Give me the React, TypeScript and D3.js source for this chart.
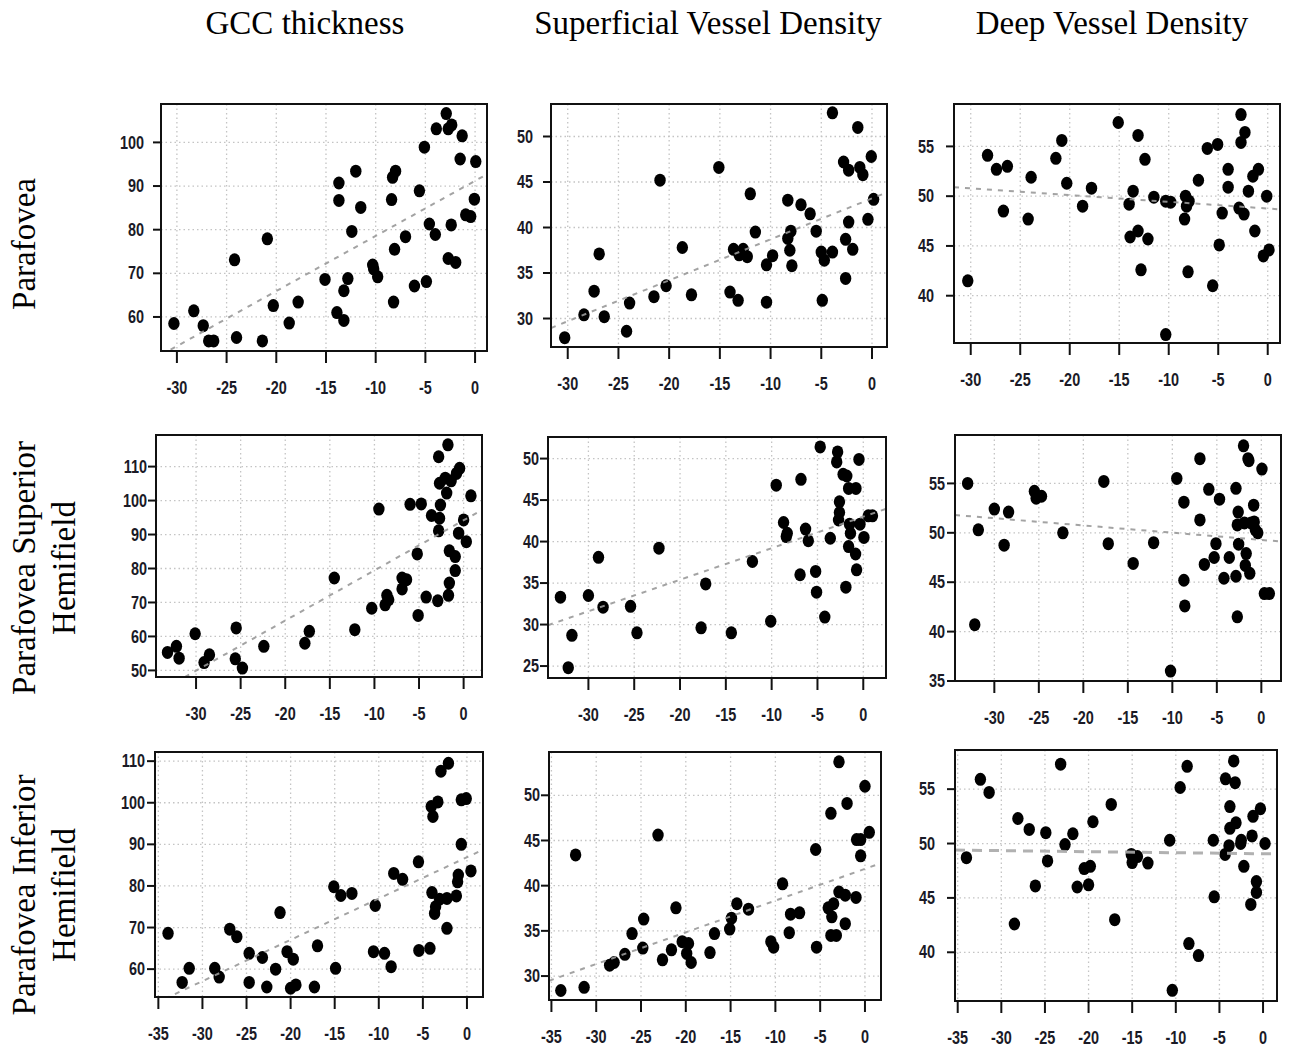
import React from "react";
import { scaleLinear, line } from "d3";

const svgWidth = 1292;
const svgHeight = 1051;
const dotRx = 5.7;
const dotRy = 6.5;
const xTickLen = 12;
const yTickLen = 8;
const xLabelOffset = 37;
const tickFont = "'Liberation Sans', Arial, sans-serif";
const tickFontSize = 18.5;
const tickSquash = 0.78;
const titleFont = "'Liberation Serif', 'Times New Roman', serif";

const colTitles = ["GCC thickness", "Superficial Vessel Density", "Deep Vessel Density"];
const colTitleX = [305, 708, 1112];
const rowTitles = [["Parafovea"], ["Parafovea Superior", "Hemifield"], ["Parafovea Inferior", "Hemifield"]];
const rowTitleY = [244, 568, 895];

const xTicks30 = [-30, -25, -20, -15, -10, -5, 0];
const xTicks35 = [-35, -30, -25, -20, -15, -10, -5, 0];
const yTicksGccPara = [60, 70, 80, 90, 100];
const yTicksSvdPara = [30, 35, 40, 45, 50];
const yTicksDvdPara = [40, 45, 50, 55];
const yTicksGccSup = [50, 60, 70, 80, 90, 100, 110];
const yTicksSvdSup = [25, 30, 35, 40, 45, 50];
const yTicksDvdSup = [35, 40, 45, 50, 55];
const yTicksGccInf = [60, 70, 80, 90, 100, 110];
const yTicksSvdInf = [30, 35, 40, 45, 50];
const yTicksDvdInf = [40, 45, 50, 55];

// [visual field MD, measure]
const gccPara = [
  [-30.3, 58.5], [-28.3, 61.4], [-27.35, 58.0], [-26.8, 54.5], [-26.3, 54.5], [-24.2, 73.1], [-24.0, 55.3],
  [-21.4, 54.5], [-20.9, 77.9], [-20.3, 62.6], [-18.7, 58.6], [-17.8, 63.4], [-15.1, 68.6], [-13.9, 61.0],
  [-13.7, 90.7], [-13.7, 86.7], [-13.2, 59.2], [-13.2, 66.0], [-12.8, 68.8], [-12.0, 93.4], [-12.4, 79.6],
  [-11.5, 85.1], [-10.3, 71.9], [-10.2, 71.0], [-9.8, 69.2], [-8.4, 86.9], [-8.3, 92.0], [-8.0, 93.4],
  [-8.1, 75.5], [-8.2, 63.4], [-7.0, 78.4], [-6.1, 67.1], [-5.6, 88.9], [-5.1, 98.9], [-4.9, 68.1],
  [-4.6, 81.3], [-4.0, 78.9], [-3.9, 103.1], [-2.9, 106.6], [-2.7, 103.1], [-2.35, 104.0], [-2.7, 73.4],
  [-1.95, 72.5], [-2.4, 81.1], [-1.3, 101.5], [-1.5, 96.2], [0.07, 95.6], [-0.07, 87.0], [-0.94, 83.4],
  [-0.44, 83.0],
];
const svdPara = [
  [-30.3, 27.9], [-28.4, 30.4], [-27.4, 33.0], [-26.9, 37.1], [-26.4, 30.2], [-24.2, 28.6], [-23.9, 31.7],
  [-21.5, 32.4], [-20.9, 45.2], [-20.3, 33.6], [-18.7, 37.8], [-17.8, 32.6], [-15.1, 46.6], [-14.0, 32.9],
  [-13.65, 37.6], [-13.2, 32.0], [-13.1, 37.0], [-12.7, 37.6], [-12.3, 36.8], [-12.0, 43.7], [-11.5, 39.5],
  [-10.4, 35.9], [-9.8, 36.9], [-10.4, 31.8], [-8.3, 43.0], [-8.3, 38.8], [-8.0, 39.6], [-8.1, 37.5],
  [-7.9, 35.8], [-7.0, 42.5], [-6.1, 41.5], [-5.5, 39.6], [-5.0, 37.3], [-4.9, 32.0], [-4.7, 36.4],
  [-3.9, 37.3], [-3.9, 52.6], [-2.8, 47.2], [-2.3, 46.3], [-2.6, 38.7], [-2.6, 34.4], [-2.3, 40.6],
  [-1.9, 37.6], [-1.4, 51.0], [-1.2, 46.6], [-0.9, 45.8], [-0.4, 40.9], [-0.07, 47.8], [0.16, 43.1],
];
const dvdPara = [
  [-30.3, 41.5], [-28.3, 54.1], [-27.4, 52.7], [-26.3, 53.0], [-26.7, 48.5], [-23.9, 51.9], [-24.2, 47.7],
  [-21.4, 53.8], [-20.8, 55.6], [-20.3, 51.3], [-18.7, 49.0], [-17.8, 50.8], [-15.1, 57.4], [-14.0, 49.2],
  [-13.6, 50.5], [-13.9, 45.9], [-13.1, 46.5], [-13.1, 56.1], [-12.4, 53.7], [-12.8, 42.6], [-12.1, 45.7],
  [-11.5, 49.9], [-10.3, 49.5], [-9.8, 49.4], [-10.3, 36.1], [-8.3, 50.0], [-7.95, 49.5], [-8.2, 49.0],
  [-8.4, 47.7], [-8.05, 42.4], [-7.0, 51.6], [-6.1, 54.8], [-5.56, 41.0], [-5.06, 55.2], [-4.9, 45.1],
  [-4.6, 48.3], [-4.0, 52.7], [-4.0, 50.9], [-2.7, 58.2], [-2.3, 56.4], [-2.7, 55.4], [-2.9, 48.8],
  [-2.4, 48.2], [-1.95, 50.5], [-1.5, 52.0], [-0.94, 52.7], [-1.3, 46.5], [-0.44, 44.0], [0.13, 44.6],
  [-0.1, 50.0],
];
const gccSup = [
  [-33.2, 55.3], [-32.2, 57.1], [-31.9, 53.6], [-30.1, 60.8], [-29.1, 52.3], [-28.5, 54.6], [-25.5, 62.5],
  [-25.6, 53.4], [-24.8, 50.7], [-22.4, 57.1], [-17.8, 58.0], [-17.3, 61.5], [-14.5, 77.2], [-12.2, 62.0],
  [-10.3, 68.3], [-9.5, 97.5], [-8.8, 69.3], [-8.6, 72.1], [-8.4, 70.8], [-6.9, 74.0], [-6.9, 77.2],
  [-6.4, 76.7], [-6.0, 98.9], [-4.75, 99.0], [-5.2, 84.3], [-5.1, 66.2], [-4.2, 71.6], [-3.6, 95.6],
  [-2.8, 112.9], [-2.7, 105.1], [-2.6, 98.7], [-2.7, 94.8], [-2.8, 91.1], [-2.9, 70.5], [-2.06, 106.6],
  [-1.9, 102.2], [-1.76, 116.4], [-1.4, 105.8], [-0.8, 108.0], [-0.45, 109.5], [-1.7, 72.1], [-1.6, 75.7],
  [-1.6, 85.2], [-0.94, 83.5], [-0.94, 79.4], [-0.56, 90.4], [0.0, 94.3], [0.3, 87.9], [0.82, 101.4],
];
const svdSup = [
  [-33.05, 33.3], [-31.8, 28.7], [-32.2, 24.8], [-30.0, 33.5], [-28.9, 38.1], [-28.4, 32.1], [-25.4, 32.2],
  [-24.7, 29.0], [-22.3, 39.2], [-17.7, 29.6], [-17.2, 34.9], [-14.4, 29.0], [-12.1, 37.6], [-10.1, 30.4],
  [-9.5, 46.8], [-8.7, 42.3], [-8.4, 40.6], [-8.3, 41.0], [-6.9, 36.0], [-6.8, 47.5], [-6.3, 41.5],
  [-6.0, 40.1], [-5.2, 36.4], [-5.1, 33.9], [-4.7, 51.4], [-4.2, 30.9], [-3.6, 40.4], [-2.8, 50.8],
  [-2.9, 49.6], [-2.6, 44.8], [-2.6, 43.5], [-2.7, 42.6], [-2.2, 48.1], [-1.8, 47.9], [-1.6, 46.4],
  [-0.8, 46.4], [-1.9, 34.5], [-1.5, 42.1], [-1.4, 41.0], [-1.6, 39.4], [-0.84, 38.5], [-0.73, 36.6],
  [-0.47, 49.9], [-0.36, 42.1], [0.07, 40.5], [0.55, 43.1], [1.0, 43.1],
];
const dvdSup = [
  [-33.0, 55.0], [-31.8, 50.3], [-32.2, 40.7], [-30.0, 52.4], [-28.9, 48.75], [-28.4, 52.1], [-25.5, 54.2],
  [-25.3, 53.5], [-24.7, 53.7], [-22.3, 50.0], [-17.7, 55.2], [-17.2, 48.9], [-14.4, 46.9], [-12.1, 49.0],
  [-10.2, 36.0], [-9.5, 55.5], [-8.7, 53.1], [-8.7, 45.2], [-8.6, 42.6], [-6.9, 57.5], [-6.9, 51.3],
  [-6.4, 46.8], [-5.9, 54.4], [-4.7, 53.4], [-5.1, 48.9], [-5.3, 47.5], [-4.2, 45.4], [-3.6, 47.5],
  [-2.85, 54.5], [-2.6, 52.1], [-2.7, 50.8], [-2.55, 48.85], [-2.85, 45.6], [-2.7, 41.5], [-2.0, 58.8],
  [-1.5, 57.5], [-1.4, 57.3], [-1.9, 51.0], [-1.16, 51.0], [-1.7, 47.9], [-1.8, 46.7], [-1.3, 45.9],
  [-0.86, 52.8], [-0.8, 51.1], [-0.67, 50.3], [-0.4, 50.0], [0.07, 56.45], [0.34, 43.85], [0.9, 43.85],
];
const gccInf = [
  [-33.9, 68.6], [-32.3, 56.8], [-31.5, 60.2], [-28.6, 60.2], [-28.1, 58.1], [-26.9, 69.6], [-26.1, 67.8],
  [-24.7, 63.8], [-24.7, 56.8], [-23.2, 62.8], [-22.7, 55.7], [-21.7, 60.0], [-21.2, 73.6], [-20.4, 64.2],
  [-19.7, 62.4], [-20.0, 55.4], [-19.4, 56.2], [-17.3, 55.7], [-16.95, 65.6], [-14.9, 60.2], [-15.1, 79.8],
  [-14.3, 77.7], [-13.05, 78.2], [-10.4, 75.3], [-10.6, 64.2], [-9.35, 63.8], [-8.6, 60.6], [-8.3, 83.0],
  [-7.3, 81.6], [-5.5, 85.8], [-5.45, 64.5], [-4.2, 65.0], [-4.05, 99.1], [-3.86, 96.7], [-3.97, 78.4],
  [-3.67, 73.4], [-3.56, 75.0], [-3.3, 100.2], [-2.95, 107.6], [-2.1, 109.5], [-3.1, 76.8], [-2.27, 77.0],
  [-2.27, 69.8], [-1.2, 77.6], [-1.06, 81.0], [-0.98, 82.6], [-0.64, 90.0], [-0.64, 100.7], [-0.08, 101.0],
  [0.45, 83.6],
];
const svdInf = [
  [-33.95, 28.4], [-32.3, 43.4], [-31.35, 28.75], [-28.5, 31.2], [-28.0, 31.5], [-26.8, 32.4], [-26.0, 34.7],
  [-24.7, 36.3], [-24.8, 33.1], [-23.1, 45.6], [-22.6, 31.8], [-21.6, 32.9], [-21.1, 37.55], [-20.4, 33.8],
  [-19.7, 33.6], [-19.9, 32.5], [-19.4, 31.5], [-17.3, 32.6], [-16.8, 34.7], [-15.1, 35.2], [-14.9, 36.4],
  [-14.3, 38.0], [-13.0, 37.4], [-10.5, 33.8], [-10.2, 33.2], [-9.2, 40.2], [-8.45, 34.8], [-8.3, 36.85],
  [-7.3, 37.0], [-5.5, 44.0], [-5.4, 33.2], [-3.8, 48.0], [-4.1, 37.55], [-3.7, 36.55], [-3.8, 34.5],
  [-3.5, 38.0], [-3.2, 34.5], [-2.9, 39.3], [-2.9, 53.7], [-2.2, 38.95], [-2.2, 35.8], [-2.0, 49.1],
  [-1.0, 38.7], [-0.93, 45.1], [-0.48, 45.1], [-0.48, 43.3], [0.0, 51.0], [0.48, 45.9],
];
const dvdInf = [
  [-34.0, 48.7], [-32.4, 55.9], [-31.4, 54.7], [-28.5, 42.6], [-28.1, 52.3], [-26.8, 51.3], [-26.1, 46.1],
  [-24.9, 51.0], [-24.7, 48.4], [-23.2, 57.3], [-22.7, 49.9], [-21.8, 50.9], [-21.3, 46.0], [-20.5, 47.7],
  [-19.8, 47.9], [-20.0, 46.2], [-19.5, 52.0], [-17.4, 53.6], [-17.0, 43.0], [-15.1, 49.0], [-15.0, 48.25],
  [-14.4, 48.8], [-13.2, 48.2], [-10.7, 50.3], [-10.4, 36.5], [-9.5, 55.15], [-8.7, 57.1], [-8.5, 40.8],
  [-7.4, 39.7], [-5.7, 50.3], [-5.6, 45.1], [-4.3, 55.95], [-4.35, 49.0], [-3.9, 49.8], [-3.8, 53.4],
  [-3.8, 51.4], [-3.36, 57.6], [-3.2, 55.6], [-3.1, 51.9], [-2.56, 50.0], [-2.5, 50.3], [-2.2, 47.9],
  [-1.26, 50.7], [-1.15, 52.5], [-1.4, 44.4], [-0.76, 46.5], [-0.76, 45.5], [-0.3, 53.2], [0.23, 50.0],
];

// regression lines: [intercept, slope]
const fitGccPara = [91.2, 1.263];
const fitSvdPara = [43.2, 0.45];
const fitDvdPara = [48.76, -0.0675];
const fitGccSup = [94.2, 1.476];
const fitSvdSup = [43.0, 0.38];
const fitDvdSup = [49.28, -0.0732];
const fitGccInf = [86.9, 0.993];
const fitSvdInf = [41.86, 0.351];
const fitDvdInf = [49.06, -0.0095];

const panels = [
  { data: gccPara, fit: fitGccPara, xTicks: xTicks30, yTicks: yTicksGccPara, box: [161, 104, 487, 351], xDomain: [-31.6, 1.2], yDomain: [52.2, 108.8], labelGap: 17 },
  { data: svdPara, fit: fitSvdPara, xTicks: xTicks30, yTicks: yTicksSvdPara, box: [551, 104, 887, 347], xDomain: [-31.65, 1.48], yDomain: [26.87, 53.57], labelGap: 18 },
  { data: dvdPara, fit: fitDvdPara, xTicks: xTicks30, yTicks: yTicksDvdPara, box: [954, 104, 1280, 343], xDomain: [-31.69, 1.24], yDomain: [35.25, 59.26], labelGap: 20 },
  { data: gccSup, fit: fitGccSup, xTicks: xTicks30, yTicks: yTicksGccSup, box: [156, 435, 482, 677], xDomain: [-34.49, 2.06], yDomain: [48.06, 119.3], labelGap: 9 },
  { data: svdSup, fit: fitSvdSup, xTicks: xTicks30, yTicks: yTicksSvdSup, box: [548, 437, 886, 678], xDomain: [-34.41, 2.48], yDomain: [23.56, 52.6], labelGap: 9 },
  { data: dvdSup, fit: fitDvdSup, xTicks: xTicks30, yTicks: yTicksDvdSup, box: [955, 435, 1281, 681], xDomain: [-34.42, 2.21], yDomain: [35, 59.9], labelGap: 10 },
  { data: gccInf, fit: fitGccInf, xTicks: xTicks35, yTicks: yTicksGccInf, box: [155, 752, 483, 997], xDomain: [-35.38, 1.82], yDomain: [53.3, 112.2], labelGap: 10 },
  { data: svdInf, fit: fitSvdInf, xTicks: xTicks35, yTicks: yTicksSvdInf, box: [549, 752, 881, 1000], xDomain: [-35.27, 1.79], yDomain: [27.35, 54.79], labelGap: 9 },
  { data: dvdInf, fit: fitDvdInf, xTicks: xTicks35, yTicks: yTicksDvdInf, box: [955, 750, 1277, 1001], xDomain: [-35.31, 1.6], yDomain: [35.52, 58.6], labelGap: 20, wideDash: true },
];

function TickLabel({ x, y, anchor, children }) {
  return (
    <g transform={`translate(${x},${y}) scale(${tickSquash},1)`}>
      <text
        textAnchor={anchor}
        dominantBaseline="central"
        fontFamily={tickFont}
        fontWeight="bold"
        fontSize={tickFontSize}
        fill="#1a1a26"
      >
        {children}
      </text>
    </g>
  );
}

function Panel({ panel, index }) {
  const [x0, y0, x1, y1] = panel.box;
  const xScale = scaleLinear().domain(panel.xDomain).range([x0, x1]);
  const yScale = scaleLinear().domain(panel.yDomain).range([y1, y0]);
  const [intercept, slope] = panel.fit;
  const fitPath = line<number>()
    .x((d) => xScale(d))
    .y((d) => yScale(intercept + slope * d));
  const clipId = `panel-clip-${index}`;

  return (
    <g>
      <defs>
        <clipPath id={clipId}>
          <rect x={x0} y={y0} width={x1 - x0} height={y1 - y0} />
        </clipPath>
      </defs>
      <g clipPath={`url(#${clipId})`}>
        {panel.xTicks.map((tick) => (
          <line
            key={`gx${tick}`}
            x1={xScale(tick)}
            x2={xScale(tick)}
            y1={y0}
            y2={y1}
            stroke="#c4c4c4"
            strokeWidth={1.3}
            strokeDasharray="1.5,3"
          />
        ))}
        {panel.yTicks.map((tick) => (
          <line
            key={`gy${tick}`}
            x1={x0}
            x2={x1}
            y1={yScale(tick)}
            y2={yScale(tick)}
            stroke="#c4c4c4"
            strokeWidth={1.3}
            strokeDasharray="1.5,3"
          />
        ))}
      </g>
      {panel.data.map((d, i) => (
        <ellipse key={`pt${i}`} cx={xScale(d[0])} cy={yScale(d[1])} rx={dotRx} ry={dotRy} fill="#000" />
      ))}
      <g clipPath={`url(#${clipId})`}>
        <path
          d={fitPath(panel.xDomain)}
          fill="none"
          stroke={panel.wideDash ? "#a8a8a8" : "#999"}
          strokeWidth={panel.wideDash ? 3 : 2}
          strokeDasharray={panel.wideDash ? "10,7" : "5,6"}
          opacity={0.9}
        />
      </g>
      <rect x={x0} y={y0} width={x1 - x0} height={y1 - y0} fill="none" stroke="#111" strokeWidth={2} />
      {panel.xTicks.map((tick) => (
        <g key={`tx${tick}`}>
          <line x1={xScale(tick)} x2={xScale(tick)} y1={y1} y2={y1 + xTickLen} stroke="#111" strokeWidth={2} />
          <TickLabel x={xScale(tick)} y={y1 + xLabelOffset} anchor="middle">
            {tick}
          </TickLabel>
        </g>
      ))}
      {panel.yTicks.map((tick) => (
        <g key={`ty${tick}`}>
          <line x1={x0} x2={x0 - yTickLen} y1={yScale(tick)} y2={yScale(tick)} stroke="#111" strokeWidth={2} />
          <TickLabel x={x0 - panel.labelGap} y={yScale(tick)} anchor="end">
            {tick}
          </TickLabel>
        </g>
      ))}
    </g>
  );
}

export default function App() {
  return (
    <>
      <style>{`body{margin:0;background:#fff}`}</style>
      <svg width={svgWidth} height={svgHeight} viewBox={`0 0 ${svgWidth} ${svgHeight}`} style={{ display: "block" }}>
        <rect width={svgWidth} height={svgHeight} fill="#fff" />
        {colTitles.map((title, i) => (
          <text key={title} x={colTitleX[i]} y={34} textAnchor="middle" fontFamily={titleFont} fontSize={33} fill="#000">
            {title}
          </text>
        ))}
        {rowTitles.map((lines, i) =>
          lines.map((label, j) => (
            <text
              key={`${i}-${j}`}
              transform={`translate(${35 + j * 40},${rowTitleY[i]}) rotate(-90)`}
              textAnchor="middle"
              fontFamily={titleFont}
              fontSize={33}
              fill="#000"
            >
              {label}
            </text>
          ))
        )}
        {panels.map((panel, i) => (
          <Panel key={`panel${i}`} panel={panel} index={i} />
        ))}
      </svg>
    </>
  );
}
